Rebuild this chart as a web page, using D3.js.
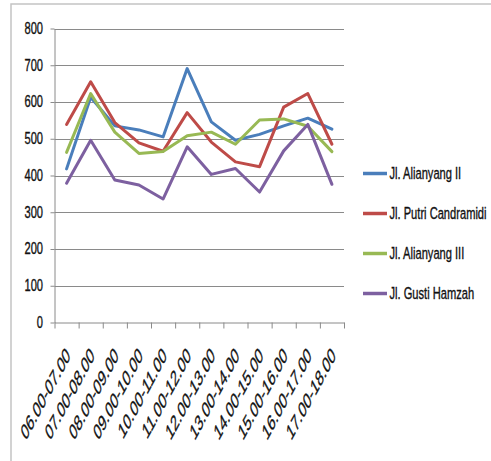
<!DOCTYPE html>
<html>
<head>
<meta charset="utf-8">
<script src="https://cdn.jsdelivr.net/npm/d3@7"></script>
<style>
  html, body { margin: 0; padding: 0; background: #fff; }
  svg { display: block; }
</style>
</head>
<body>
<div id="chart"></div>
<script>
const categories = ["06.00-07.00","07.00-08.00","08.00-09.00","09.00-10.00","10.00-11.00","11.00-12.00",
                    "12.00-13.00","13.00-14.00","14.00-15.00","15.00-16.00","16.00-17.00","17.00-18.00"];
const seriesNames = ["Jl. Alianyang II","Jl. Putri Candramidi","Jl. Alianyang III","Jl. Gusti Hamzah"];
const alianyangII     = [418, 613, 535, 524, 505, 691, 546, 496, 512, 535, 556, 526];
const putriCandramidi = [539, 655, 544, 489, 466, 571, 491, 437, 424, 586, 623, 485];
const alianyangIII    = [463, 623, 518, 460, 465, 508, 518, 485, 551, 554, 534, 465];
const gustiHamzah     = [379, 496, 388, 374, 336, 478, 403, 419, 355, 467, 539, 376];
const yTicks = [0, 100, 200, 300, 400, 500, 600, 700, 800];
const colors = ["#4A7EBB", "#BE4B48", "#98B954", "#7D60A0"];

const seriesValues = [alianyangII, putriCandramidi, alianyangIII, gustiHamzah];

const W = 491, H = 461;
const pLeft = 54.5, pRight = 344, pTop = 28.5, pBottom = 322.5;

const svg = d3.select("#chart").append("svg").attr("width", W).attr("height", H);

// outer chart border
svg.append("rect").attr("x", 11).attr("y", 4).attr("width", 520).attr("height", 520)
  .attr("fill", "none").attr("stroke", "#c4c4c4").attr("stroke-width", 1.5);

const x = d3.scaleBand().domain(categories).range([pLeft, pRight]).padding(0);
const xi = d3.scaleLinear().domain([0, categories.length]).range([pLeft, pRight]);
const y = d3.scaleLinear().domain([0, 800]).range([pBottom, pTop]);

// gridlines
svg.append("g").selectAll("line").data(yTicks.filter(d => d > 0)).join("line")
  .attr("x1", pLeft).attr("x2", pRight)
  .attr("y1", d => Math.round(y(d)) + 0.5).attr("y2", d => Math.round(y(d)) + 0.5)
  .attr("stroke", "#8a8a8a").attr("stroke-width", 1);

const font = "'Liberation Sans', Arial, sans-serif";
const condensed = "scale(0.824,1.22)";

// y axis
const yAxis = svg.append("g").attr("transform", `translate(${pLeft},0)`)
  .call(d3.axisLeft(y).tickValues(yTicks).tickSize(4).tickPadding(7).tickSizeOuter(0));
yAxis.select(".domain").attr("stroke", "#8a8a8a");
yAxis.selectAll(".tick line").attr("stroke", "#8a8a8a");
yAxis.selectAll(".tick text")
  .attr("x", 0)
  .attr("font-family", font).attr("font-size", 13.5).attr("fill", "#111")
  .attr("stroke", "#111").attr("stroke-width", 0.3)
  .attr("transform", `translate(-11.5,-0.5) ${condensed}`);

// x axis (ticks at category boundaries)
const xAxis = svg.append("g").attr("transform", `translate(0,${pBottom})`)
  .call(d3.axisBottom(xi).tickValues(d3.range(categories.length + 1)).tickFormat("").tickSize(6).tickSizeOuter(0));
xAxis.select(".domain").attr("stroke", "#8a8a8a");
xAxis.selectAll(".tick line").attr("stroke", "#8a8a8a");

// x labels
svg.append("g").selectAll("text").data(categories).join("text")
  .attr("transform", d => `translate(${x(d) + x.bandwidth() / 2 + 4.5},357) scale(1,1.86) rotate(-45)`)
  .attr("text-anchor", "end")
  .attr("font-family", font)
  .attr("font-size", 12).attr("fill", "#111")
  .attr("stroke", "#111").attr("stroke-width", 0.2)
  .text(d => d);

// lines
const line = d3.line()
  .x((d, i) => x(categories[i]) + x.bandwidth() / 2)
  .y(d => y(d));

svg.append("g").selectAll("path").data(seriesValues).join("path")
  .attr("d", d => line(d))
  .attr("fill", "none")
  .attr("stroke", (d, i) => colors[i])
  .attr("stroke-width", 3)
  .attr("stroke-linejoin", "round")
  .attr("stroke-linecap", "round");

// legend
const legend = svg.append("g");
const lg = legend.selectAll("g").data(seriesNames).join("g")
  .attr("transform", (d, i) => `translate(363,${173.5 + i * 40})`);
lg.append("line").attr("x1", 0).attr("x2", 24).attr("y1", 0).attr("y2", 0)
  .attr("stroke", (d, i) => colors[i]).attr("stroke-width", 3.5);
lg.append("text")
  .attr("x", 0).attr("y", 0).attr("dy", "0.35em")
  .attr("transform", `translate(26.5,0) ${condensed}`)
  .attr("font-family", font).attr("font-size", 13.5).attr("fill", "#111")
  .attr("stroke", "#111").attr("stroke-width", 0.3)
  .text(d => d);
</script>
</body>
</html>
